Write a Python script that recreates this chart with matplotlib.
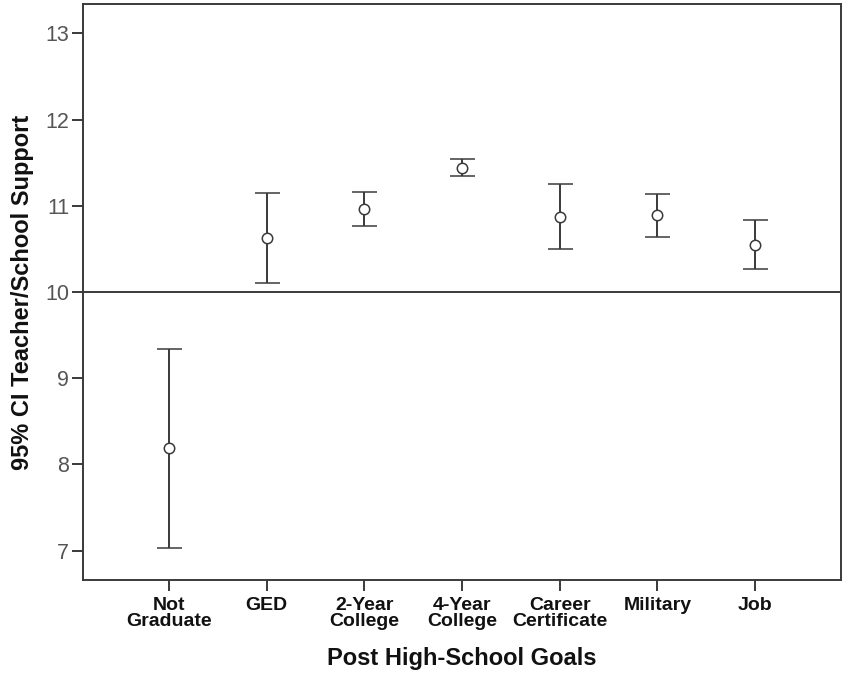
import matplotlib
matplotlib.use("Agg")
import matplotlib.pyplot as plt
import numpy as np

# Group means and 95% confidence limits of teacher/school support
goals = ["Not\nGraduate", "GED", "2-Year\nCollege", "4-Year\nCollege",
         "Career\nCertificate", "Military", "Job"]
means = [8.19, 10.63, 10.96, 11.44, 10.87, 10.89, 10.55]
ci_low = [7.03, 10.11, 10.76, 11.34, 10.50, 10.64, 10.27]
ci_high = [9.34, 11.15, 11.16, 11.54, 11.25, 11.14, 10.83]
y_ticks = [7, 8, 9, 10, 11, 12, 13]
ref_value = 10

plt.rcParams['font.family'] = ['Liberation Sans', 'DejaVu Sans']

line_col = "#3a3a3a"

fig = plt.figure(figsize=(8.49, 6.74), dpi=100)
ax = fig.add_axes([83 / 849, 1 - 580 / 674, (841 - 83) / 849, (580 - 4) / 674])

x = np.arange(len(goals))
means_arr = np.array(means)
yerr = [means_arr - np.array(ci_low), np.array(ci_high) - means_arr]

ax.axhline(ref_value, color=line_col, lw=1.4, zorder=1)
ax.errorbar(x, means, yerr=yerr, fmt="o", mfc="white", mec=line_col, mew=1.1,
            ms=7.5, ecolor=line_col, elinewidth=1.4, capsize=9, capthick=1.4,
            zorder=3)

ax.set_xlim(-0.88, 6.88)
ax.set_ylim(6.66, 13.34)
ax.set_yticks(y_ticks)
ax.set_yticklabels([str(t) for t in y_ticks], fontsize=15.5, color="#555555")
ax.set_xticks(x)
ax.set_xticklabels(goals, fontsize=14, fontweight="bold", color="#111111",
                   linespacing=0.95)
ax.tick_params(axis="both", direction="out", length=8, width=1.4, color=line_col)
ax.tick_params(axis="y", pad=2)
ax.tick_params(axis="x", pad=4)

for sp in ax.spines.values():
    sp.set_color(line_col)
    sp.set_linewidth(1.4)

ax.set_xlabel("Post High-School Goals", fontsize=17, fontweight="bold",
              color="#111111", labelpad=12)
ax.set_ylabel("95% CI Teacher/School Support", fontsize=17, fontweight="bold",
              color="#111111", labelpad=8)

fig.savefig("out.png", dpi=100)
